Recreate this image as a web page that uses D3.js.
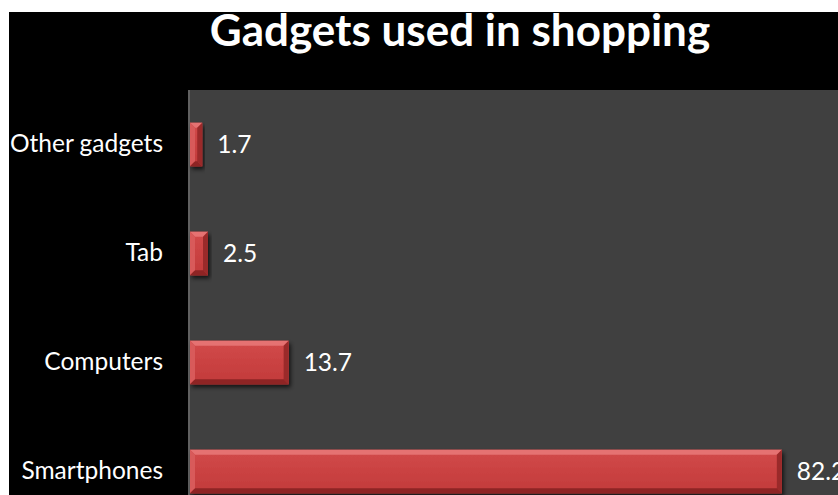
<!DOCTYPE html>
<html>
<head>
<meta charset="utf-8">
<script src="https://cdn.jsdelivr.net/npm/d3@7"></script>
<style>
  html, body { margin: 0; padding: 0; background: #ffffff; }
  svg { display: block; }
</style>
</head>
<body>
<svg id="chart" width="838" height="495"></svg>
<script>
// Share of shoppers by device (%)
const categories = ["Other gadgets", "Tab", "Computers", "Smartphones"];
const values = [1.7, 2.5, 13.7, 82.2];
const titleText = "Gadgets used in shopping";

const W = 838, H = 495;
const svg = d3.select("#chart");
const font = "Lato, 'Open Sans', sans-serif";

// Frame and plot area
const frame = { left: 9, top: 12 };
const plot = { left: 188, top: 90, right: 910, bottom: 526 };

const defs = svg.append("defs");
const shadow = defs.append("filter").attr("id", "barShadow")
  .attr("x", "-10%").attr("y", "-20%").attr("width", "130%").attr("height", "160%");
shadow.append("feDropShadow").attr("dx", 2).attr("dy", 3)
  .attr("stdDeviation", 2).attr("flood-color", "#000").attr("flood-opacity", 0.7);

const face = defs.append("linearGradient").attr("id", "barFace")
  .attr("x1", 0).attr("y1", 0).attr("x2", 0).attr("y2", 1);
face.append("stop").attr("offset", "0%").attr("stop-color", "#d24a4a");
face.append("stop").attr("offset", "100%").attr("stop-color", "#c23a3a");

svg.append("rect").attr("x", frame.left).attr("y", frame.top)
  .attr("width", W - frame.left).attr("height", H - frame.top).attr("fill", "#000");

svg.append("rect").attr("x", plot.left).attr("y", plot.top)
  .attr("width", plot.right - plot.left).attr("height", plot.bottom - plot.top)
  .attr("fill", "#404040");

// Scales
const x = d3.scaleLinear().domain([0, 100]).range([190, 910]);
const y = d3.scaleBand().domain(categories).range([plot.top, plot.bottom])
  .paddingInner(0.6).paddingOuter(0.3);

// Category axis
const yAxis = svg.append("g")
  .attr("transform", `translate(${plot.left + 1},0)`)
  .call(d3.axisLeft(y).tickSize(0).tickPadding(26));
yAxis.select(".domain").attr("stroke", "#6b6b6b").attr("stroke-width", 1.5)
  .attr("d", `M0,${plot.top}V${plot.bottom}`);
yAxis.selectAll("text")
  .attr("fill", "#ffffff")
  .attr("font-family", font)
  .attr("font-size", 24.5);

// Bars with bevelled edges
const data = categories.map((c, i) => ({ c, v: values[i] }));
const bev = 5;
const bars = svg.append("g").selectAll("g.bar").data(data).join("g").attr("class", "bar");

bars.append("rect")
  .attr("x", x(0)).attr("y", d => y(d.c))
  .attr("width", d => x(d.v) - x(0)).attr("height", y.bandwidth())
  .attr("fill", "url(#barFace)")
  .attr("filter", "url(#barShadow)");

function bevelPts(d, side) {
  const x0 = x(0), x1 = x(d.v), y0 = y(d.c), y1 = y0 + y.bandwidth();
  const b = Math.min(bev, (x1 - x0) / 2);
  switch (side) {
    case "top": return [[x0, y0], [x1, y0], [x1 - b, y0 + b], [x0 + b, y0 + b]];
    case "bottom": return [[x0, y1], [x1, y1], [x1 - b, y1 - b], [x0 + b, y1 - b]];
    case "left": return [[x0, y0], [x0 + b, y0 + b], [x0 + b, y1 - b], [x0, y1]];
    case "right": return [[x1, y0], [x1 - b, y0 + b], [x1 - b, y1 - b], [x1, y1]];
  }
}
const bevelFill = { top: "#e57272", left: "#d85a5a", right: "#9a2a2a", bottom: "#8e2424" };
["top", "left", "right", "bottom"].forEach(side => {
  bars.append("polygon")
    .attr("points", d => bevelPts(d, side).map(p => p.join(",")).join(" "))
    .attr("fill", bevelFill[side]);
});

// Value labels
svg.append("g").selectAll("text").data(data).join("text")
  .attr("x", d => x(d.v) + 15)
  .attr("y", d => y(d.c) + y.bandwidth() / 2)
  .attr("dy", "0.36em")
  .attr("fill", "#ffffff")
  .attr("font-family", font)
  .attr("font-size", 24.5)
  .text(d => d.v.toFixed(1));

// Title
svg.append("text")
  .attr("x", 460).attr("y", 46)
  .attr("text-anchor", "middle")
  .attr("fill", "#ffffff")
  .attr("font-family", font)
  .attr("font-weight", "bold")
  .attr("font-size", 44)
  .text(titleText);
</script>
</body>
</html>
